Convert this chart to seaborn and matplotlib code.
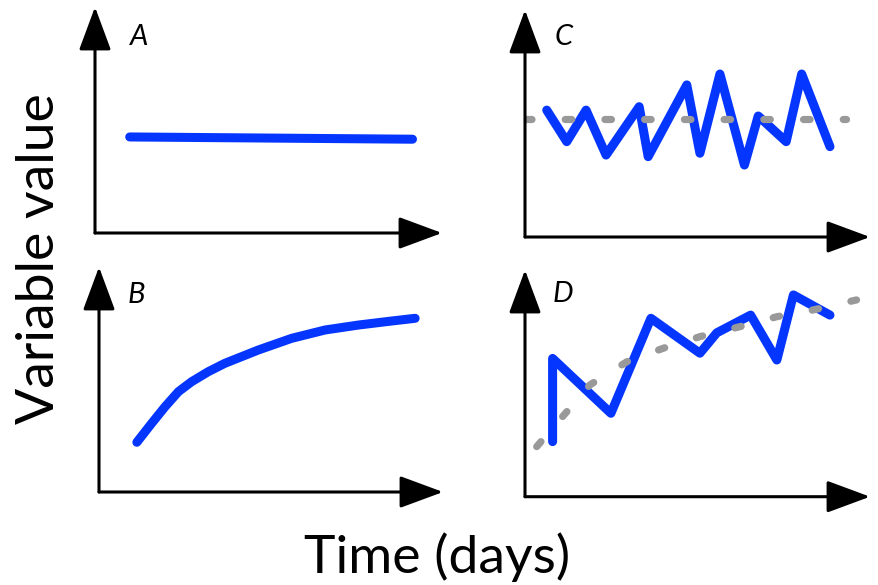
import matplotlib
matplotlib.use("Agg")
import matplotlib.pyplot as plt
import seaborn as sns
import pandas as pd

# ---- data (arbitrary units, time 0-10, value 0-10) ----
a_time = [1.0, 9.15]
a_value = [4.25, 4.15]

b_time = [1.10, 1.53, 1.92, 2.31, 2.69, 3.18, 3.66, 4.63, 5.60, 6.57, 7.54, 8.51, 9.19]
b_value = [2.21, 3.05, 3.79, 4.46, 4.90, 5.35, 5.72, 6.31, 6.83, 7.20, 7.42, 7.60, 7.72]

c_time = [0.63, 1.21, 1.77, 2.35, 3.31, 3.57, 4.69, 5.07, 5.65, 6.36, 6.76, 7.57, 8.02, 8.84]
c_value = [5.59, 4.20, 5.59, 3.61, 5.74, 3.54, 6.70, 3.69, 7.18, 3.17, 5.33, 4.20, 7.18, 3.98]
c_mean_time = [0.0, 9.3]
c_mean_value = [5.2, 5.2]

d_time = [0.80, 0.80, 2.49, 3.65, 5.07, 5.56, 6.54, 7.30, 7.78, 8.84]
d_value = [2.43, 6.10, 3.68, 7.87, 6.33, 7.23, 8.01, 6.03, 8.90, 8.01]
d_trend_time = [0.34, 1.88, 2.95, 4.01, 5.07, 6.23, 7.30, 8.36, 9.61]
d_trend_value = [2.21, 4.93, 5.95, 6.55, 7.06, 7.50, 7.94, 8.24, 8.68]

panel_labels = ["A", "B", "C", "D"]
x_label = "Time (days)"
y_label = "Variable value"

# ---- styling ----
sns.set_theme(style="white")
plt.rcParams["font.family"] = ["Lato", "DejaVu Sans"]
plt.rcParams["text.color"] = "black"

BLUE = "#0536ff"
GRAY = "#999999"
W, H = 879, 585

fig = plt.figure(figsize=(W / 100, H / 100), dpi=100)

def add_axes(left, right, top, bottom):
    return fig.add_axes([left / W, 1 - bottom / H, (right - left) / W, (bottom - top) / H])

boxes = [
    (95, 442, 7, 233),
    (99, 443, 267, 492),
    (525, 870, 10, 237),
    (525, 870, 270, 496.7),
]
label_pos = [(0.10, 0.83), (0.084, 0.84), (0.087, 0.846), (0.081, 0.86)]

axes = [add_axes(*b) for b in boxes]

series = [
    (a_time, a_value, None, None),
    (b_time, b_value, None, None),
    (c_time, c_value, c_mean_time, c_mean_value),
    (d_time, d_value, d_trend_time, d_trend_value),
]

for ax, (t, v, rt, rv), lab, lp in zip(axes, series, panel_labels, label_pos):
    ax.set_xlim(0, 10)
    ax.set_ylim(0, 10)
    ax.axis("off")
    df = pd.DataFrame({"t": t, "v": v})
    sns.lineplot(data=df, x="t", y="v", ax=ax, color=BLUE, lw=6.5,
                 estimator=None, sort=False, solid_capstyle="round",
                 solid_joinstyle="round", zorder=2)
    if rt is not None:
        dfr = pd.DataFrame({"t": rt, "v": rv})
        sns.lineplot(data=dfr, x="t", y="v", ax=ax, color=GRAY, lw=5.2,
                     estimator=None, sort=False, dashes=False,
                     linestyle=(0, (0.9, 4.6)), dash_capstyle="round", zorder=3)
    # axis arrows
    ap = dict(arrowstyle="-|>,head_length=1.35,head_width=0.5", color="black",
              lw=2.2, mutation_scale=20, shrinkA=0, shrinkB=0)
    ax.annotate("", xy=(1, 0), xytext=(0, 0), xycoords="axes fraction",
                textcoords="axes fraction", arrowprops=ap, annotation_clip=False)
    ax.annotate("", xy=(0, 1), xytext=(0, 0), xycoords="axes fraction",
                textcoords="axes fraction", arrowprops=ap, annotation_clip=False)
    ax.text(lp[0], lp[1], lab, transform=ax.transAxes, fontsize=21,
            fontstyle="italic", color="black", ha="left", va="baseline")

fig.text(437 / W, 1 - 573 / H, x_label, ha="center", va="baseline",
         fontsize=38.5, color="black")
fig.text(40 / W, 1 - 259 / H, y_label, ha="center", va="center", rotation=90,
         fontsize=38.5, color="black")

fig.savefig("out.png", dpi=100)
